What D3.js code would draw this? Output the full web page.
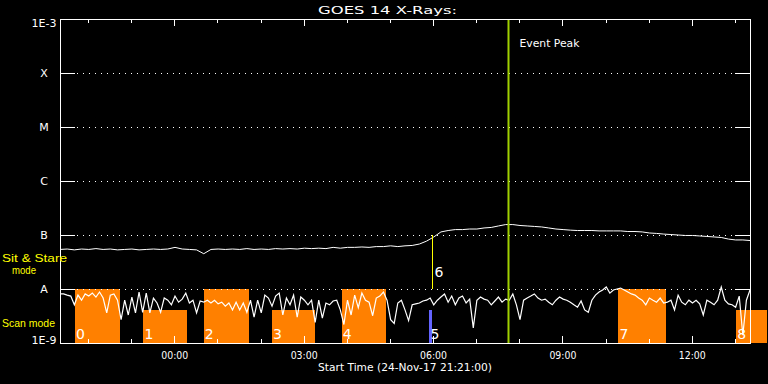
<!DOCTYPE html>
<html>
<head>
<meta charset="utf-8">
<script src="https://cdn.jsdelivr.net/npm/d3@7"></script>
<style>
  body { margin: 0; background: #000; }
  svg { display: block; background: #000; }
  text { font-family: "DejaVu Sans", sans-serif; fill: #fff; }
  .axis text { font-size: 11px; fill: #fff; }
  .axis line { stroke: #fff; shape-rendering: crispEdges; }
  .mode text { font-family: "Liberation Sans", sans-serif; font-size: 11.5px; fill: #ffff00; }
</style>
</head>
<body>
<div id="chart"></div>
<script>
// GOES 14 X-ray flux, 16 hours from 24-Nov-17 21:21 UT
var startTime = new Date(Date.UTC(2017, 10, 24, 21, 21));
var endTime = new Date(Date.UTC(2017, 10, 25, 13, 21));

// long channel (upper trace), one value every 10 min, in 1e-8 W/m^2
var longStepMin = 10;
var longFlux = [
  5.4, 5.5, 5.3, 5.5, 5.4, 5.6, 5.4, 5.5, 5.3, 5.4,
  5.5, 5.3, 5.4, 5.5, 5.4, 5.5, 5.9, 5.5, 5.4, 5.3,
  4.5, 5.4, 5.5, 5.4, 5.5, 5.4, 5.6, 5.4, 5.5, 5.4,
  5.6, 5.5, 5.6, 5.5, 5.7, 5.6, 5.7, 5.6, 5.9, 5.7,
  5.9, 5.9, 6.0, 5.9, 6.1, 6.1, 6.3, 6.1, 6.3, 6.4,
  6.8, 7.7, 9.2, 11.4, 12.1, 12.6, 12.6, 12.9, 12.9, 13.5,
  13.8, 14.7, 15.6, 15.6, 15.0, 14.7, 14.4, 14.1, 13.5, 12.9,
  12.6, 12.3, 12.1, 12.1, 12.1, 11.9, 11.9, 11.9, 11.9, 11.6,
  11.6, 11.4, 10.9, 10.7, 10.4, 10.2, 10.0, 9.8, 9.8, 9.6,
  9.4, 9.2, 9.0, 8.4, 8.1, 8.1, 7.9
];

// short channel (lower trace), one value every 5 min, in 1e-9 W/m^2
var shortStepMin = 5;
var shortFlux = [
  8.1, 8.1, 7.7, 7.4, 5.1, 7.7, 6.2, 8.1, 7.4, 8.4,
  7.1, 8.8, 6.8, 3.6, 7.7, 8.1, 6.2, 2.7, 6.2, 3.3,
  7.1, 3.6, 8.8, 3.7, 8.4, 3.6, 6.8, 5.5, 3.7, 6.8,
  6.2, 5.1, 7.4, 5.7, 6.5, 8.4, 5.5, 6.2, 3.6, 6.0,
  5.7, 6.2, 5.5, 6.2, 5.3, 5.7, 4.8, 5.5, 4.1, 5.7,
  4.1, 5.5, 3.7, 6.2, 3.0, 6.2, 3.6, 7.7, 6.8, 4.8,
  7.4, 8.4, 3.3, 6.8, 5.1, 7.7, 3.0, 7.1, 6.2, 5.1,
  6.2, 2.4, 6.2, 2.9, 5.5, 5.1, 6.0, 6.2, 4.1, 2.2,
  6.2, 3.3, 7.7, 4.5, 8.4, 6.2, 5.7, 3.2, 6.8, 7.4,
  8.8, 6.2, 2.7, 2.3, 5.5, 6.2, 4.1, 2.6, 5.1, 5.3,
  5.5, 6.0, 6.2, 6.8, 5.1, 6.2, 7.1, 8.1, 5.7, 7.4,
  5.1, 6.8, 7.4, 5.5, 6.5, 1.9, 6.2, 7.1, 6.5, 6.2,
  5.1, 6.0, 7.1, 5.7, 6.5, 6.2, 8.1, 5.1, 2.7, 6.2,
  6.8, 7.4, 8.1, 6.8, 6.2, 6.5, 5.7, 5.1, 6.2, 7.1,
  6.5, 6.2, 5.7, 5.1, 4.6, 6.0, 4.1, 3.7, 6.2, 7.7,
  8.8, 9.6, 10.9, 8.4, 9.6, 10.0, 10.4, 9.6, 8.8, 8.1,
  7.7, 6.8, 6.2, 5.1, 6.8, 6.2, 5.7, 6.8, 5.5, 5.7,
  6.2, 4.1, 7.7, 5.7, 5.1, 6.2, 5.5, 6.2, 5.3, 3.3,
  6.2, 5.7, 5.1, 6.2, 10.9, 6.2, 5.3, 5.1, 4.6, 7.4,
  1.4, 6.2, 9.6
];

// flare class levels on the log axis
var levelTicks = [1e-9, 1e-8, 1e-7, 1e-6, 1e-5, 1e-4, 1e-3];
var levelLabels = ["1E-9", "A", "B", "C", "M", "X", "1E-3"];
var gridLevels = [1e-8, 1e-7, 1e-6, 1e-5, 1e-4];

// observing blocks
var blockIds = ["0", "1", "2", "3", "4", "5", "7", "8"];
var blockStart = ["2017-11-24T21:42Z", "2017-11-24T23:17Z", "2017-11-25T00:41Z", "2017-11-25T02:16Z",
                  "2017-11-25T03:53Z", "2017-11-25T05:55Z", "2017-11-25T10:18Z", "2017-11-25T13:02Z"];
var blockEnd = ["2017-11-24T22:44Z", "2017-11-25T00:18Z", "2017-11-25T01:44Z", "2017-11-25T03:16Z",
                "2017-11-25T04:54Z", "2017-11-25T05:59Z", "2017-11-25T11:24Z", "2017-11-25T13:45Z"];
var blockLevel = [1e-8, 4e-9, 1e-8, 4e-9, 1e-8, 4e-9, 1e-8, 4e-9];
var blockKind = ["scan", "scan", "scan", "scan", "scan", "other", "scan", "scan"];

var sitStareId = "6";
var sitStareTime = "2017-11-25T05:58Z";
var eventPeakTime = "2017-11-25T07:45Z";

var svgWidth = 768;
var svgHeight = 384;

var svg = d3.select("#chart")
  .append("svg")
  .attr("width", svgWidth)
  .attr("height", svgHeight);

var x = d3.scaleUtc().domain([startTime, endTime]).range([60, 750]);
var y = d3.scaleLog().domain([1e-9, 1e-3]).range([343, 19]);

function minutesAfter(i, step) {
  return new Date(startTime.getTime() + i * step * 60000);
}

// mode blocks
svg.append("g").selectAll("rect")
  .data(blockIds)
  .enter()
  .append("rect")
  .attr("x", (d, i) => x(new Date(blockStart[i])))
  .attr("width", (d, i) => x(new Date(blockEnd[i])) - x(new Date(blockStart[i])))
  .attr("y", (d, i) => y(blockLevel[i]))
  .attr("height", (d, i) => y(1e-9) - y(blockLevel[i]))
  .attr("fill", (d, i) => blockKind[i] === "scan" ? "#ff8000" : "#6464ff")
  .attr("shape-rendering", "crispEdges");

// dotted class lines
svg.append("g").selectAll("line")
  .data(gridLevels)
  .enter()
  .append("line")
  .attr("x1", x.range()[0] + 17)
  .attr("x2", x.range()[1] - 15)
  .attr("y1", d => y(d) + 0.5)
  .attr("y2", d => y(d) + 0.5)
  .attr("stroke", "#fff")
  .attr("stroke-dasharray", "1,5");

// traces
var longLine = d3.line()
  .x((d, i) => x(minutesAfter(i, longStepMin)))
  .y(d => y(d * 1e-8));
var shortLine = d3.line()
  .x((d, i) => x(minutesAfter(i, shortStepMin)))
  .y(d => y(d * 1e-9));

svg.append("path")
  .attr("d", longLine(longFlux))
  .attr("fill", "none")
  .attr("stroke", "#fff")
  .attr("stroke-width", 1);
svg.append("path")
  .attr("d", shortLine(shortFlux))
  .attr("fill", "none")
  .attr("stroke", "#fff")
  .attr("stroke-width", 1.2);

// sit & stare marker
var sx = Math.round(x(new Date(sitStareTime))) + 0.5;
svg.append("line")
  .attr("x1", sx).attr("x2", sx)
  .attr("y1", y(1e-7)).attr("y2", y(1e-8))
  .attr("stroke", "#ffff00");
svg.append("text")
  .attr("x", sx + 2)
  .attr("y", 277)
  .attr("font-size", "14px")
  .text(sitStareId);

// event peak
var ex = x(new Date(eventPeakTime));
svg.append("line")
  .attr("x1", ex).attr("x2", ex)
  .attr("y1", y(1e-3)).attr("y2", y(1e-9))
  .attr("stroke", "#a0d000")
  .attr("stroke-width", 2);
svg.append("text")
  .attr("x", ex + 11)
  .attr("y", 47)
  .attr("font-size", "11px")
  .attr("textLength", 60)
  .attr("lengthAdjust", "spacingAndGlyphs")
  .text("Event Peak");

// block numbers
svg.append("g").selectAll("text")
  .data(blockIds)
  .enter()
  .append("text")
  .attr("x", (d, i) => x(new Date(blockStart[i])) + 1)
  .attr("y", 339)
  .attr("font-size", "14px")
  .text(d => d);

// frame
svg.append("rect")
  .attr("x", 60.5)
  .attr("y", 19.5)
  .attr("width", 690)
  .attr("height", 324)
  .attr("fill", "none")
  .attr("stroke", "#fff");

// time axes
var hourMinor = d3.utcHour.every(1);
var hourMajor = d3.utcHour.every(3);

svg.append("g").attr("class", "axis")
  .attr("transform", "translate(0,19)")
  .call(d3.axisTop(x).ticks(hourMinor).tickSize(-4).tickSizeOuter(0).tickFormat(""))
  .call(g => g.select(".domain").remove());
svg.append("g").attr("class", "axis")
  .attr("transform", "translate(0,19)")
  .call(d3.axisTop(x).ticks(hourMajor).tickSize(-7).tickSizeOuter(0).tickFormat(""))
  .call(g => g.select(".domain").remove());
svg.append("g").attr("class", "axis")
  .attr("transform", "translate(0,343)")
  .call(d3.axisBottom(x).ticks(hourMinor).tickSize(-4).tickSizeOuter(0).tickFormat(""))
  .call(g => g.select(".domain").remove());
svg.append("g").attr("class", "axis")
  .attr("transform", "translate(0,343)")
  .call(d3.axisBottom(x).ticks(hourMajor).tickSize(-7).tickSizeOuter(0).tickPadding(8)
    .tickFormat(d3.utcFormat("%H:%M")))
  .call(g => g.select(".domain").remove())
  .call(g => g.selectAll("text").attr("textLength", 27).attr("lengthAdjust", "spacingAndGlyphs"));

// level axes
svg.append("g").attr("class", "axis")
  .attr("transform", "translate(60,0)")
  .call(d3.axisLeft(y).tickValues(levelTicks).tickSize(-15).tickSizeOuter(0)
    .tickFormat((d, i) => levelLabels[i]))
  .call(g => g.select(".domain").remove())
  .call(g => g.selectAll("text")
    .attr("text-anchor", "middle")
    .attr("x", -16)
    .attr("dy", (d, i) => i === 0 ? "0.05em" : (i === levelTicks.length - 1 ? "0.7em" : "0.36em")));
svg.append("g").attr("class", "axis")
  .attr("transform", "translate(750,0)")
  .call(d3.axisRight(y).tickValues(levelTicks).tickSize(-15).tickSizeOuter(0).tickFormat(""))
  .call(g => g.select(".domain").remove());

// titles and labels
svg.append("text")
  .attr("x", 318).attr("y", 14)
  .attr("font-size", "11px")
  .attr("textLength", 139).attr("lengthAdjust", "spacingAndGlyphs")
  .text("GOES 14 X-Rays:");
svg.append("text")
  .attr("x", 318).attr("y", 371)
  .attr("font-size", "11px")
  .attr("textLength", 174).attr("lengthAdjust", "spacingAndGlyphs")
  .text("Start Time (24-Nov-17 21:21:00)");

var modeLabels = svg.append("g").attr("class", "mode");
modeLabels.append("text")
  .attr("x", 2).attr("y", 262)
  .attr("textLength", 65).attr("lengthAdjust", "spacingAndGlyphs")
  .text("Sit & Stare");
modeLabels.append("text")
  .attr("x", 12).attr("y", 274)
  .attr("textLength", 24).attr("lengthAdjust", "spacingAndGlyphs")
  .text("mode");
modeLabels.append("text")
  .attr("x", 2).attr("y", 327)
  .attr("textLength", 53).attr("lengthAdjust", "spacingAndGlyphs")
  .text("Scan mode");
</script>
</body>
</html>
